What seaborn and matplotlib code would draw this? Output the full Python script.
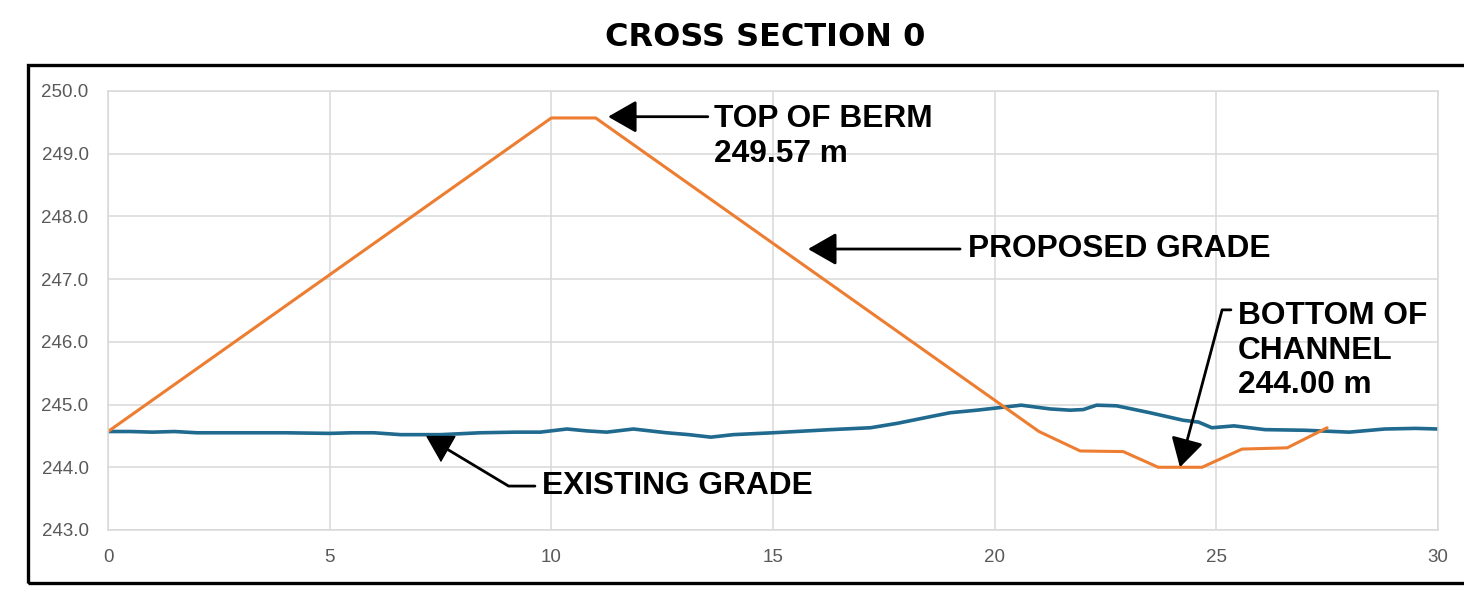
import seaborn as sns
import matplotlib.pyplot as plt
from matplotlib.patches import Rectangle
from matplotlib.ticker import FormatStrFormatter

# existing grade (survey), station in m / elevation in m
existing_station = [0, 0.5, 1, 1.5, 2, 3, 4, 5, 5.5, 6, 6.6, 7.5, 8.4, 9.2, 9.75,
                    10.35, 10.8, 11.25, 11.85, 12.6, 13.1, 13.6, 14.1, 15, 16.3,
                    17.2, 17.8, 18.5, 19, 19.6, 20.1, 20.6, 21.25, 21.7, 22.0, 22.3,
                    22.75, 23.5, 24.25, 24.6, 24.9, 25.4, 26.1, 27, 28, 28.8, 29.5, 30]
existing_elev = [244.57, 244.57, 244.56, 244.57, 244.55, 244.55, 244.55, 244.54, 244.55,
                 244.55, 244.52, 244.52, 244.55, 244.56, 244.56, 244.61, 244.58, 244.56,
                 244.61, 244.55, 244.52, 244.48, 244.52, 244.55, 244.60, 244.63, 244.70,
                 244.80, 244.87, 244.91, 244.95, 244.99, 244.93, 244.91, 244.92, 244.99,
                 244.98, 244.87, 244.75, 244.72, 244.63, 244.66, 244.60, 244.59, 244.56,
                 244.61, 244.62, 244.61]

# proposed grade (design)
proposed_station = [0, 10, 11, 21, 21.93, 22.9, 23.69, 24.68, 25.58, 26.6, 27.5]
proposed_elev = [244.57, 249.57, 249.57, 244.57, 244.26, 244.25, 244.00, 244.00,
                 244.29, 244.31, 244.63]

x_ticks = [0, 5, 10, 15, 20, 25, 30]
y_ticks = [243, 244, 245, 246, 247, 248, 249, 250]

sns.set_style("white")
plt.rcParams['font.family'] = ['Liberation Sans', 'DejaVu Sans']

fig = plt.figure(figsize=(14.64, 6.07), dpi=100)
ax = fig.add_axes([0.0738, 0.1269, 0.9084, 0.7232])

sns.lineplot(x=existing_station, y=existing_elev, ax=ax, color='#1f6a8e', lw=2.6,
             sort=False, estimator=None)
sns.lineplot(x=proposed_station, y=proposed_elev, ax=ax, color='#ed7d31', lw=2.2,
             sort=False, estimator=None)

ax.set_xlim(0, 30)
ax.set_ylim(243, 250)
ax.set_xticks(x_ticks)
ax.set_yticks(y_ticks)
ax.yaxis.set_major_formatter(FormatStrFormatter('%.1f'))
ax.grid(True, color='#d9d9d9', lw=1.1)
ax.set_axisbelow(True)
for s in ax.spines.values():
    s.set_color('#d9d9d9')
    s.set_linewidth(1.1)
ax.tick_params(length=0, labelsize=13.5, labelcolor='#595959')
ax.tick_params(axis='y', pad=14)
ax.tick_params(axis='x', pad=14)

head = '-|>,head_length=1.75,head_width=1.0'
txt = dict(fontsize=22.8, fontweight='bold', color='black')

# top of berm
ax.annotate('', xy=(11.28, 249.59), xytext=(13.53, 249.59),
            arrowprops=dict(arrowstyle=head, mutation_scale=10, color='black',
                            lw=2, shrinkA=0, shrinkB=0))
ax.text(13.67, 249.27, 'TOP OF BERM\n249.57 m', ha='left', va='center', **txt)

# proposed grade
ax.annotate('', xy=(15.79, 247.48), xytext=(19.22, 247.48),
            arrowprops=dict(arrowstyle=head, mutation_scale=10, color='black',
                            lw=2, shrinkA=0, shrinkB=0))
ax.text(19.40, 247.48, 'PROPOSED GRADE', ha='left', va='center', **txt)

# existing grade
ax.annotate('', xy=(7.67, 244.28), xytext=(9.63, 243.70),
            arrowprops=dict(arrowstyle='-', color='black', lw=2, shrinkA=0, shrinkB=0,
                            connectionstyle='angle,angleA=0,angleB=149,rad=0'))
ax.annotate('', xy=(7.51, 244.08), xytext=(7.51, 244.48),
            arrowprops=dict(arrowstyle=head, mutation_scale=10, color='black',
                            lw=1, shrinkA=0, shrinkB=0))
ax.text(9.79, 243.70, 'EXISTING GRADE', ha='left', va='center', **txt)

# bottom of channel
ax.annotate('', xy=(24.18, 244.0), xytext=(25.33, 246.51),
            arrowprops=dict(arrowstyle=head, mutation_scale=10, color='black',
                            lw=2, shrinkA=0, shrinkB=0,
                            connectionstyle='angle,angleA=0,angleB=75,rad=0'))
ax.text(25.49, 245.86, 'BOTTOM OF\nCHANNEL\n244.00 m', ha='left', va='center', **txt)

fig.text(0.523, 0.939, 'CROSS SECTION 0', ha='center', va='center', fontsize=23,
         fontweight='heavy', family='DejaVu Sans', color='black')

# outer frame
fig.patches.append(Rectangle((0.0191, 0.0395), 1.2, 0.8535, transform=fig.transFigure,
                             fill=False, ec='black', lw=2.4, clip_on=False))

fig.savefig('out.png', dpi=100)
